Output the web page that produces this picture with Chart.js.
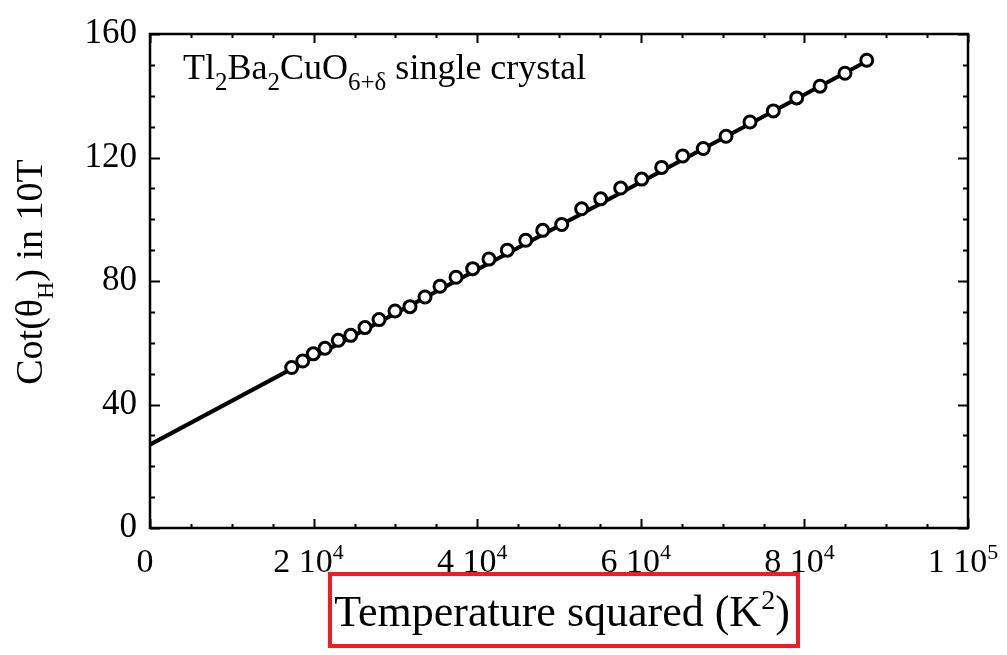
<!DOCTYPE html>
<html>
<head>
<meta charset="utf-8">
<title>Cot(θH) vs T²</title>
<script src="https://cdn.jsdelivr.net/npm/chart.js@4.4.1/dist/chart.umd.min.js"></script>
<style>
  html, body { margin: 0; padding: 0; background: #fff; }
  #wrap { width: 1007px; height: 655px; position: relative; }
</style>
</head>
<body>
<div id="wrap"><canvas id="hallChart" width="1007" height="655"></canvas></div>
<script>
// ---- data ----
// T^2 (K^2) and cot(theta_H) measured in 10 T
const tempSq = [
  17320, 18670, 19960, 21390, 23020, 24540, 26280, 28000, 29950, 31780,
  33620, 35450, 37410, 39450, 41440, 43680, 45930, 48010, 50330, 52770,
  55100, 57540, 60110, 62550, 65120, 67640, 70420, 73350, 76200, 79060,
  81910, 84960, 87620
];
const cotTheta = [
  52.0, 54.1, 56.4, 58.2, 60.8, 62.4, 64.9, 67.5, 70.3, 71.7,
  74.8, 78.3, 81.2, 84.0, 87.1, 90.0, 93.2, 96.4, 98.3, 103.4,
  106.6, 110.1, 113.0, 116.8, 120.5, 122.9, 126.9, 131.5, 135.1, 139.3,
  143.1, 147.3, 151.5
];

// linear fit drawn through the points
const fitX = [0, 87620];
const fitY = [27.0, 151.2];

// axes
const xTicks = [0, 20000, 40000, 60000, 80000, 100000];
const xTickLabels = [['0', ''], ['2 10', '4'], ['4 10', '4'], ['6 10', '4'], ['8 10', '4'], ['1 10', '5']];
const yTicks = [0, 40, 80, 120, 160];

const SERIF = '"Liberation Serif", "DejaVu Serif", serif';

// draw a run of [text, kind] pieces; kind: 0 normal, 1 subscript, 2 superscript
function drawPieces(ctx, pieces, x, y, size, align, subRatio) {
  const subSize = Math.round(size * (subRatio || 0.64));
  const widths = pieces.map(p => {
    ctx.font = (p[1] ? subSize : size) + 'px ' + SERIF;
    return ctx.measureText(p[0]).width;
  });
  const total = widths.reduce((a, b) => a + b, 0);
  let cx = align === 'center' ? x - total / 2 : x;
  ctx.textAlign = 'left';
  ctx.textBaseline = 'alphabetic';
  pieces.forEach((p, i) => {
    ctx.font = (p[1] ? subSize : size) + 'px ' + SERIF;
    const dy = p[1] === 1 ? size * 0.3 : p[1] === 2 ? -size * 0.38 : 0;
    ctx.fillText(p[0], cx, y + dy);
    cx += widths[i];
  });
}

// frame, inward ticks, labels and text
const framePlugin = {
  id: 'frame',
  afterDatasetsDraw(chart) {
    const { ctx, chartArea: a, scales: { x, y } } = chart;
    ctx.save();
    ctx.strokeStyle = '#000';
    ctx.fillStyle = '#000';

    // ticks: minor every 10 on y, every 5000 on x
    ctx.lineWidth = 2;
    ctx.beginPath();
    for (let v = 0; v <= 160; v += 10) {
      const py = Math.round(y.getPixelForValue(v)) + 0.5;
      const len = v % 40 === 0 ? 10 : 5;
      ctx.moveTo(a.left, py); ctx.lineTo(a.left + len, py);
      ctx.moveTo(a.right, py); ctx.lineTo(a.right - len, py);
    }
    for (let v = 0; v <= 100000; v += 5000) {
      const px = Math.round(x.getPixelForValue(v)) + 0.5;
      const len = v % 20000 === 0 ? 9 : 4;
      ctx.moveTo(px, a.bottom); ctx.lineTo(px, a.bottom - len);
      ctx.moveTo(px, a.top); ctx.lineTo(px, a.top + len);
    }
    ctx.stroke();

    // box
    ctx.lineWidth = 2.5;
    ctx.strokeRect(a.left, a.top, a.right - a.left, a.bottom - a.top);

    // x tick labels with exponents
    xTicks.forEach((v, i) => {
      const [base, exp] = xTickLabels[i];
      drawPieces(ctx, [[base, 0], [exp, 2]], x.getPixelForValue(v) - 5, 572, 34, 'center');
    });

    // x title
    drawPieces(ctx, [['Temperature squared (K', 0], ['2', 2], [')', 0]], 562, 626, 44, 'center');

    // y title, rotated
    ctx.save();
    ctx.translate(42, 272);
    ctx.rotate(-Math.PI / 2);
    drawPieces(ctx, [['Cot(θ', 0], ['H', 1], [') in 10T', 0]], 0, 0, 38, 'center');
    ctx.restore();

    // sample label
    drawPieces(ctx, [
      ['Tl', 0], ['2', 1], ['Ba', 0], ['2', 1], ['CuO', 0], ['6+δ', 1], [' single crystal', 0]
    ], 183, 79, 36, 'left', 0.7);

    // highlight around the x title
    ctx.strokeStyle = '#ee1c24';
    ctx.lineWidth = 4;
    ctx.strokeRect(330, 574, 468, 72);
    ctx.restore();
  }
};

new Chart(document.getElementById('hallChart'), {
  type: 'scatter',
  data: {
    datasets: [
      {
        label: 'points',
        data: tempSq.map((t, i) => ({ x: t, y: cotTheta[i] })),
        pointRadius: 6,
        pointBorderWidth: 3,
        pointBackgroundColor: '#fff',
        pointBorderColor: '#000',
        order: 1
      },
      {
        label: 'fit',
        data: fitX.map((t, i) => ({ x: t, y: fitY[i] })),
        showLine: true,
        pointRadius: 0,
        borderColor: '#000',
        borderWidth: 4,
        order: 2
      }
    ]
  },
  options: {
    responsive: false,
    animation: false,
    devicePixelRatio: 1,
    layout: { padding: { top: 25, right: 39, left: 0, bottom: 0 } },
    plugins: { legend: { display: false }, tooltip: { enabled: false } },
    scales: {
      x: {
        type: 'linear',
        min: 0,
        max: 100000,
        grid: { display: false },
        border: { display: false },
        ticks: { display: false },
        afterFit(scale) { scale.height = 127; }
      },
      y: {
        min: 0,
        max: 160,
        grid: { display: false, drawTicks: false },
        border: { display: false },
        afterBuildTicks(scale) { scale.ticks = yTicks.map(v => ({ value: v })); },
        ticks: {
          color: '#000',
          padding: 13,
          font: { family: SERIF, size: 35 }
        },
        afterFit(scale) { scale.width = 150; }
      }
    }
  },
  plugins: [framePlugin]
});
</script>
</body>
</html>
